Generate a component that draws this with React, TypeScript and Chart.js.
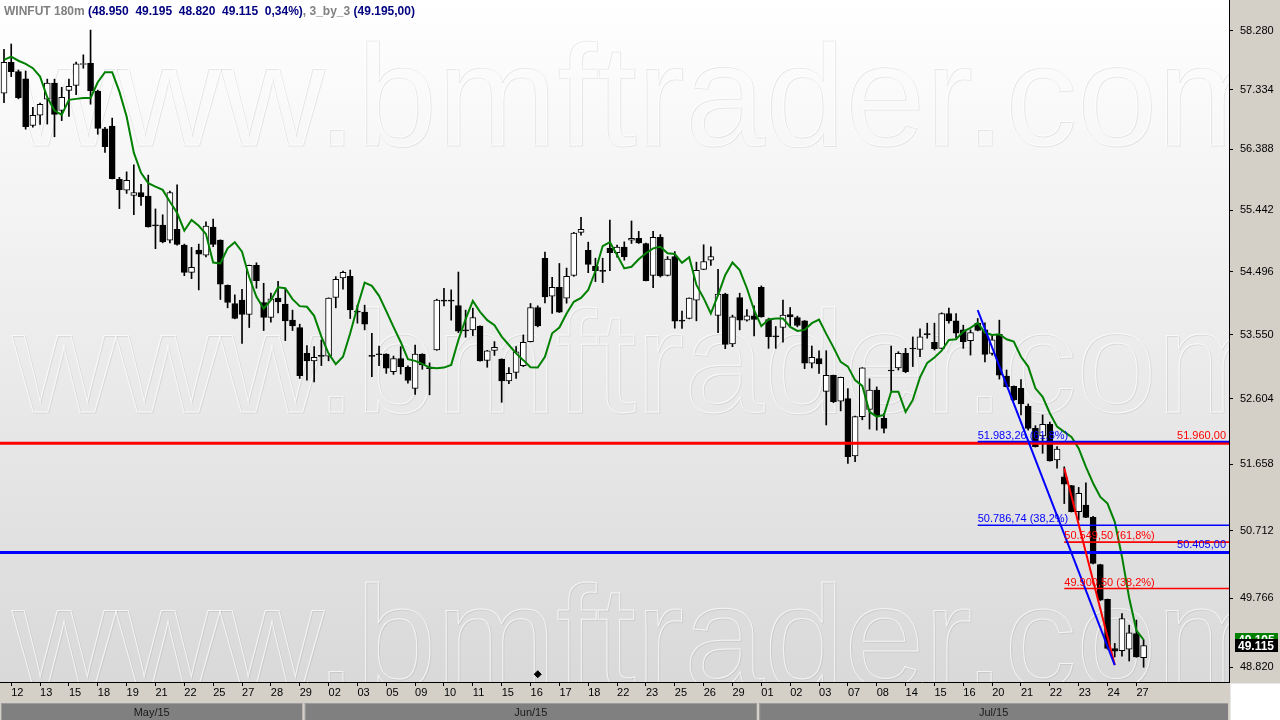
import { useEffect, useRef } from "react";
import { Chart, registerables } from "chart.js";

Chart.register(...registerables);

// ---------------- data ----------------
const symbol = "WINFUT";
const period = "180m";
const lastChangePct = 0.34;
const maName = "3_by_3";
const watermark = "www.bmftrader.com";

const barOpen = [
  57275, 57770, 57620, 57505, 56765, 56925, 57180, 57435, 57000, 57320,
  57400, 57735, 57755, 57310, 56710, 56755, 55920, 55750, 55670, 55715,
  55660, 55210, 55210, 54980, 55145, 54905, 54490, 54830, 54750, 55180,
  54980, 54295, 54020, 54070, 53855, 54595, 54035, 53810, 54100, 54010,
  53770, 53660, 53275, 53165, 53235, 53235, 54110, 54405, 54430, 53905,
  53890, 53235, 53265, 53265, 53005, 53200, 53070, 52760, 53265, 53055,
  53325, 54060, 54060, 53990, 53615, 53625, 53680, 53170, 53320, 53190,
  52870, 52995, 53095, 53450, 53960, 54705, 54130, 54265, 54100, 54445,
  55100, 54825, 54580, 54510, 54855, 54790, 54875, 54980, 55010, 54930,
  54445, 55025, 54445, 54730, 53765, 53795, 54070, 54535, 54675, 53840,
  54160, 53415, 54110, 53770, 53835, 54265, 53780, 53525, 53660, 53855,
  53810, 53760, 53130, 53200, 52715, 52950, 52570, 52610, 51775, 52345,
  52450, 52735, 52320, 53020, 53060, 53275, 53345, 53335, 53565, 53440,
  53350, 53870, 53760, 53625, 53465, 53725, 53625, 53275, 53560, 52940,
  52790, 52760, 52500, 52175, 52065, 52235, 51720, 51475, 51350, 50980,
  51075, 50900, 50235, 49750, 49075, 49045, 49065, 49280, 48950,
];
const barHigh = [
  57980, 58065, 57645, 57630, 57050, 57120, 57500, 57500, 57370, 57500,
  57775, 57890, 58290, 57325, 56735, 56880, 55950, 56035, 56145, 55840,
  55985, 55460, 55370, 55735, 55835, 54920, 54870, 54920, 55260, 55305,
  54985, 54300, 54150, 54235, 54600, 54635, 54325, 54175, 54355, 54235,
  53920, 53710, 53390, 53375, 53475, 54105, 54425, 54510, 54525, 53995,
  53995, 53575, 53385, 53270, 53235, 53375, 53090, 53400, 53270, 53135,
  54085, 54250, 54225, 54495, 53920, 53950, 53685, 53320, 53450, 53195,
  53065, 53375, 53550, 54020, 53985, 54800, 54415, 54625, 54555, 55100,
  55330, 54950, 54705, 54705, 55290, 54905, 54955, 55275, 55115, 54935,
  55115, 55065, 54730, 54805, 53905, 54105, 54645, 54910, 54880, 54535,
  54175, 53845, 54175, 53930, 53985, 54285, 53800, 53675, 54070, 53960,
  53830, 53765, 53385, 53315, 53315, 52955, 52925, 52755, 52355, 53065,
  52900, 52780, 52395, 53385, 53300, 53350, 53520, 53640, 53725, 53725,
  53880, 53950, 53870, 53695, 53625, 53795, 53730, 53550, 53770, 53030,
  52795, 52890, 52530, 52215, 52370, 52265, 51910, 51620, 51355, 51325,
  51390, 50915, 50240, 49755, 49145, 49555, 49395, 49465, 49195,
];
const barLow = [
  57125, 57540, 57185, 56705, 56735, 56780, 56785, 56585, 56840, 56905,
  57250, 57675, 57100, 56625, 56340, 55925, 55465, 55700, 55370, 55515,
  55180, 54850, 54940, 54940, 54905, 54440, 54395, 54225, 54725, 54880,
  54080, 53955, 53790, 53425, 53660, 54250, 53615, 53740, 53880, 53465,
  53615, 52905, 52880, 52855, 53095, 53165, 53955, 54235, 53795, 53725,
  53625, 52930, 53095, 52980, 52965, 52970, 52835, 52670, 53040, 52665,
  53320, 53985, 53770, 53585, 53515, 53540, 53160, 53070, 53245, 52555,
  52830, 52905, 53080, 53445, 53670, 54030, 53870, 53885, 54025, 54430,
  55055, 54485, 54350, 54335, 54515, 54720, 54675, 54930, 54930, 54360,
  54260, 54420, 54435, 53650, 53645, 53790, 53760, 54530, 54595, 53585,
  53345, 53375, 53625, 53755, 53535, 53815, 53350, 53350, 53440, 53670,
  53670, 53050, 53060, 52980, 52225, 52550, 52430, 51670, 51695, 52300,
  52165, 52150, 52110, 52725, 53030, 52990, 53080, 53225, 53500, 53325,
  53345, 53725, 53505, 53350, 53250, 53610, 53150, 53250, 52895, 52780,
  52580, 52370, 52150, 51905, 51815, 51700, 51600, 51095, 50975, 50860,
  50895, 50245, 49735, 49065, 48960, 48970, 48905, 48955, 48820,
];
const barClose = [
  57770, 57620, 57205, 56745, 56925, 57100, 57435, 56940, 57210, 57385,
  57745, 57750, 57315, 56715, 56430, 55930, 55760, 55905, 55715, 55650,
  55185, 55200, 54955, 55715, 54915, 54490, 54565, 54765, 55195, 54915,
  54310, 54035, 53795, 53855, 54595, 54365, 53810, 54090, 54045, 53760,
  53685, 52945, 53165, 53215, 53230, 54100, 54385, 54490, 53925, 53890,
  53710, 53230, 53255, 53055, 53200, 53080, 52875, 53265, 53105, 53050,
  54070, 54055, 54055, 53605, 53610, 53810, 53165, 53315, 53365, 52870,
  52980, 53300, 53440, 53960, 53685, 54120, 54265, 53890, 54430, 55090,
  55145, 54610, 54515, 54505, 54790, 54875, 54725, 55010, 54940, 54365,
  55025, 54435, 54690, 53755, 53755, 54100, 54520, 54655, 54730, 54160,
  53410, 53820, 53770, 53835, 53780, 53820, 53525, 53520, 53845, 53820,
  53690, 53130, 53215, 53120, 52950, 52565, 52920, 51765, 52345, 53060,
  52735, 52355, 52175, 53015, 53275, 53005, 53340, 53520, 53555, 53345,
  53870, 53760, 53575, 53450, 53585, 53615, 53260, 53475, 52955, 52785,
  52590, 52530, 52175, 51910, 52235, 51705, 51875, 51370, 50980, 51240,
  50900, 50250, 49740, 49075, 49040, 49485, 49290, 48960, 49115,
];
const ma3by3 = [
  57810, 57860, 57795, 57745, 57675, 57540, 57210, 57000, 56930, 57170,
  57185, 57200, 57200, 57450, 57610, 57610, 57300, 56905, 56335, 56020,
  55860, 55805, 55755, 55570, 55400, 55125, 55290, 55200, 55075, 54640,
  54625, 54855, 54950, 54805, 54415, 54120, 53945, 54070, 54265, 54250,
  54085, 53980, 53970, 53835, 53525, 53275, 53115, 53225, 53575, 53970,
  54335, 54285, 54135, 53905, 53670, 53445, 53190, 53165, 53120, 53065,
  53055, 53065, 53105, 53475, 53785, 54060, 53895, 53770, 53695, 53525,
  53400, 53275, 53175, 53070, 53065, 53225, 53575, 53660, 53870, 54045,
  54105, 54225, 54510, 54890, 54950, 54755, 54550, 54575, 54690, 54780,
  54855, 54880, 54780, 54770, 54635, 54720, 54300, 54100, 53870, 54145,
  54450, 54640, 54525, 54250, 53920, 53680, 53780, 53795, 53795, 53670,
  53610, 53625, 53725, 53780, 53565, 53365, 53150, 53080, 52880, 52795,
  52415, 52345, 52370, 52710, 52710, 52415, 52590, 52920, 53135, 53215,
  53315, 53475, 53485, 53600, 53655, 53730, 53585, 53550, 53560, 53485,
  53450, 53225, 53080, 52760, 52635, 52395, 52200, 52125, 52050, 51885,
  51620, 51385, 51190, 51095, 50835, 50345, 49770, 49325, 49195,
];

const dateTickLabels = [
  "12", "13", "15", "18", "19", "21", "22", "25", "27", "28", "29",
  "02", "03", "05", "09", "10", "11", "15", "16", "17", "18", "22", "23", "25", "26", "29",
  "01", "02", "03", "07", "08", "14", "15", "16", "20", "21", "22", "23", "24", "27",
];
const dateTickFirstBar = 1;
const dateTickEvery = 4;

const monthLabels = ["May/15", "Jun/15", "Jul/15"];
const monthFirstBar = [0, 42, 105];

const priceTicks = [58280, 57334, 56388, 55442, 54496, 53550, 52604, 51658, 50712, 49766, 48820];
const priceMin = 48620;
const priceMax = 58780;
const barMin = -0.555;
const barMax = 169.84;

const levelPrices = [51960, 50405];
const levelColors = ["#ff0000", "#0000ff"];

const fibStartBar = [135, 147];
const fibEndBar = [154, 154];
const fibHigh = [53920, 51600];
const fibLow = [48850, 48850];
const fibColors = ["#0000ff", "#ff0000"];
const fibRatios = [0.618, 0.382];

const markerBar = [74];
const markerPrice = [48725];

// ---------------- helpers ----------------
const FONT = "'Liberation Sans', Arial, sans-serif";

function fmtBR(v: number, dec: number): string {
  const fixed = v.toFixed(dec);
  const parts = fixed.split(".");
  const intF = parts[0].replace(/\B(?=(\d{3})+(?!\d))/g, ".");
  return parts.length > 1 ? intF + "," + parts[1] : intF;
}

const decorPlugin = {
  id: "decor",
  beforeDraw(chart: any) {
    const { ctx, chartArea: a } = chart;
    ctx.save();
    const g = ctx.createLinearGradient(0, a.top, 0, a.bottom);
    g.addColorStop(0, "#ffffff");
    g.addColorStop(1, "#d9d9d9");
    ctx.fillStyle = g;
    ctx.fillRect(a.left, a.top, a.right - a.left, a.bottom - a.top);
    ctx.beginPath();
    ctx.rect(a.left, a.top, a.right - a.left, a.bottom - a.top);
    ctx.clip();
    ctx.font = `144px ${FONT}`;
    ctx.textBaseline = "alphabetic";
    ctx.textAlign = "left";
    ctx.lineWidth = 1;
    for (const by of [145, 412, 687]) {
      ctx.strokeStyle = "rgba(90,90,90,0.13)";
      ctx.strokeText(watermark, a.left + 13, a.top + by + 1);
      ctx.strokeStyle = "rgba(255,255,255,0.7)";
      ctx.strokeText(watermark, a.left + 12, a.top + by);
    }
    ctx.restore();
  },
  afterDraw(chart: any) {
    const { ctx, chartArea: a, scales } = chart;
    const xs = scales.x;
    const ys = scales.y;
    const W = chart.width;
    const H = chart.height;
    ctx.save();

    // fibonacci labels
    ctx.font = `11px ${FONT}`;
    ctx.textBaseline = "alphabetic";
    ctx.textAlign = "left";
    for (let f = 0; f < fibStartBar.length; f++) {
      for (const r of fibRatios) {
        const lv = fibLow[f] + r * (fibHigh[f] - fibLow[f]);
        const y = ys.getPixelForValue(lv);
        const x = xs.getPixelForValue(fibStartBar[f]);
        ctx.fillStyle = fibColors[f];
        ctx.fillText(`${fmtBR(lv, 2)} (${fmtBR(r * 100, 1)}%)`, x, y - 3);
      }
    }
    // level labels
    ctx.textAlign = "right";
    levelPrices.forEach((p, i) => {
      const y = ys.getPixelForValue(p);
      ctx.fillStyle = levelColors[i];
      ctx.fillText(fmtBR(p, 2), a.right - 3, y - 4);
    });

    // title
    const n = barClose.length - 1;
    ctx.textAlign = "left";
    ctx.font = `bold 12px ${FONT}`;
    const parts: [string, string][] = [
      [`${symbol} ${period} `, "#808080"],
      [`(${fmtBR(barOpen[n], 0)}  ${fmtBR(barHigh[n], 0)}  ${fmtBR(barLow[n], 0)}  ${fmtBR(barClose[n], 0)}  ${fmtBR(lastChangePct, 2)}%)`, "#000080"],
      [`, ${maName} `, "#808080"],
      [`(${fmtBR(ma3by3[n], 2)})`, "#000080"],
    ];
    let tx = a.left + 4;
    for (const [t, c] of parts) {
      ctx.fillStyle = c;
      ctx.fillText(t, tx, a.top + 15);
      tx += ctx.measureText(t).width;
    }

    // last value tags on the price axis
    const tag = (v: number, bg: string) => {
      const y = ys.getPixelForValue(v);
      ctx.fillStyle = bg;
      ctx.fillRect(a.right + 6, Math.round(y - 6.5), 43, 13);
      ctx.fillStyle = "#ffffff";
      ctx.font = `bold 12px ${FONT}`;
      ctx.textBaseline = "middle";
      ctx.textAlign = "left";
      ctx.fillText(fmtBR(v, 0), a.right + 9, Math.round(y) + 0.5);
    };
    tag(ma3by3[n], "#008000");
    tag(barClose[n], "#000000");

    // month band
    const y0 = a.bottom + 21;
    const bh = H - y0;
    ctx.font = `11px ${FONT}`;
    ctx.textBaseline = "middle";
    ctx.textAlign = "center";
    for (let m = 0; m < monthLabels.length; m++) {
      const xa = m === 0 ? a.left + 1 : xs.getPixelForValue(monthFirstBar[m] - 0.5) + 1.5;
      const xb = m < monthLabels.length - 1 ? xs.getPixelForValue(monthFirstBar[m + 1] - 0.5) - 1 : a.right - 1;
      ctx.fillStyle = "#808080";
      ctx.fillRect(xa, y0, xb - xa, bh);
      ctx.fillStyle = "#9c9c9c";
      ctx.fillRect(xa, y0, xb - xa, 1);
      ctx.fillRect(xa, y0, 1, bh);
      ctx.fillStyle = "#1a1a1a";
      ctx.fillText(monthLabels[m], (xa + xb) / 2, y0 + bh / 2 + 1);
    }

    // bottom-right corner
    ctx.fillStyle = "#ffffff";
    ctx.fillRect(a.right + 1, a.bottom + 1, W - a.right - 1, H - a.bottom - 1);
    ctx.fillStyle = "#e8e8e8";
    ctx.fillRect(a.right + 1, a.bottom + 1, W - a.right - 1, 1);
    ctx.fillRect(a.right + 1, a.bottom + 1, 1, H - a.bottom - 1);
    ctx.restore();
  },
};

export default function App() {
  const ref = useRef<HTMLCanvasElement | null>(null);

  useEffect(() => {
    if (!ref.current) return;
    const idx = barClose.map((_, i) => i);
    const bodyColors = barClose.map((c, i) => (c >= barOpen[i] ? "#ffffff" : "#000000"));

    const datasets: any[] = [
      {
        type: "bar",
        label: "wick",
        data: idx.map((i) => ({ x: i, y: [barLow[i], barHigh[i]] })),
        backgroundColor: "#000000",
        borderWidth: 0,
        barThickness: 1,
        grouped: false,
        order: 6,
      },
      {
        type: "bar",
        label: "body",
        data: idx.map((i) => ({ x: i, y: [barOpen[i], barClose[i]] })),
        backgroundColor: bodyColors,
        borderColor: "#000000",
        borderWidth: 1,
        borderSkipped: false,
        barThickness: 6,
        minBarLength: 1,
        grouped: false,
        order: 5,
      },
      {
        type: "line",
        label: maName,
        data: idx.map((i) => ({ x: i, y: ma3by3[i] })),
        borderColor: "#008000",
        borderWidth: 2,
        pointRadius: 0,
        tension: 0,
        order: 4,
      },
    ];
    levelPrices.forEach((p, i) => {
      datasets.push({
        type: "line",
        data: [{ x: barMin, y: p }, { x: barMax, y: p }],
        borderColor: levelColors[i],
        borderWidth: 3,
        pointRadius: 0,
        clip: 0,
        order: 3,
      });
    });
    fibStartBar.forEach((s, f) => {
      fibRatios.forEach((r) => {
        const lv = fibLow[f] + r * (fibHigh[f] - fibLow[f]);
        datasets.push({
          type: "line",
          data: [{ x: s, y: lv }, { x: barMax, y: lv }],
          borderColor: fibColors[f],
          borderWidth: 1.6,
          pointRadius: 0,
          clip: 0,
          order: 2,
        });
      });
      datasets.push({
        type: "line",
        data: [{ x: s, y: fibHigh[f] }, { x: fibEndBar[f], y: fibLow[f] }],
        borderColor: fibColors[f],
        borderWidth: 2,
        pointRadius: 0,
        clip: 0,
        order: 1,
      });
    });
    datasets.push({
      type: "line",
      data: markerBar.map((b, i) => ({ x: b, y: markerPrice[i] })),
      showLine: false,
      pointStyle: "rectRot",
      pointRadius: 3.5,
      backgroundColor: "#000000",
      borderColor: "#000000",
      order: 0,
    });

    const chart = new Chart(ref.current, {
      type: "bar",
      data: { datasets },
      options: {
        animation: false,
        responsive: false,
        devicePixelRatio: 1,
        events: [],
        layout: { padding: 0, autoPadding: false },
        plugins: {
          legend: { display: false },
          tooltip: { enabled: false },
          title: { display: false },
        },
        scales: {
          x: {
            type: "linear",
            position: "bottom",
            min: barMin,
            max: barMax,
            offset: false,
            bounds: "data",
            afterBuildTicks: (s: any) => {
              s.ticks = dateTickLabels.map((_, k) => ({ value: dateTickFirstBar + k * dateTickEvery }));
            },
            afterFit: (s: any) => {
              s.height = 38;
              s.paddingLeft = 0;
              s.paddingRight = 0;
            },
            ticks: {
              autoSkip: false,
              maxRotation: 0,
              minRotation: 0,
              align: "start",
              padding: 0,
              color: "#000000",
              font: { family: FONT, size: 11 },
              callback: (v: any) => {
                const k = Math.round((Number(v) - dateTickFirstBar) / dateTickEvery);
                return dateTickLabels[k] ?? "";
              },
            },
            grid: { drawOnChartArea: false, drawTicks: true, tickLength: 4, color: "#000000", offset: false },
            border: { display: true, color: "#000000", width: 1 },
          },
          y: {
            type: "logarithmic",
            position: "right",
            min: priceMin,
            max: priceMax,
            bounds: "data",
            afterBuildTicks: (s: any) => {
              s.ticks = priceTicks.map((v) => ({ value: v }));
            },
            afterFit: (s: any) => {
              s.width = 51;
              s.paddingTop = 0;
              s.paddingBottom = 0;
            },
            ticks: {
              autoSkip: false,
              padding: 7,
              color: "#000000",
              font: { family: FONT, size: 11 },
              callback: (v: any) => fmtBR(Number(v), 0),
            },
            grid: { drawOnChartArea: false, drawTicks: true, tickLength: 4, color: "#000000" },
            border: { display: true, color: "#000000", width: 1 },
          },
        },
      } as any,
      plugins: [decorPlugin],
    } as any);

    return () => chart.destroy();
  }, []);

  return (
    <div style={{ position: "fixed", left: 0, top: 0, width: 1280, height: 720, background: "#d4d0c8" }}>
      <canvas ref={ref} width={1280} height={720} style={{ display: "block" }} />
    </div>
  );
}
